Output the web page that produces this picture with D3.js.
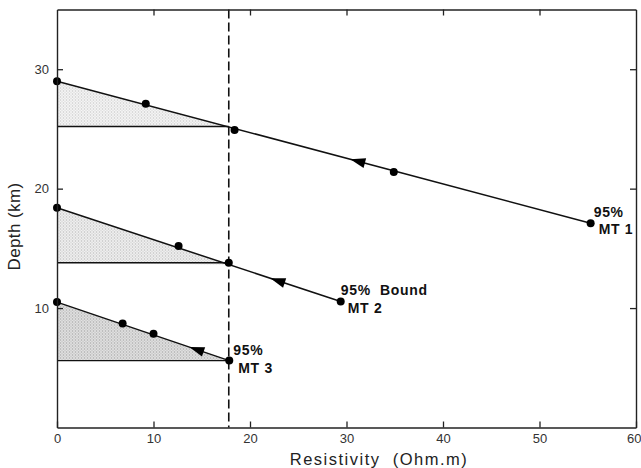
<!DOCTYPE html>
<html>
<head>
<meta charset="utf-8">
<script src="https://cdn.jsdelivr.net/npm/d3@7"></script>
<style>
  body { margin: 0; background: #fff; }
  svg { font-family: "Liberation Sans", Arial, sans-serif; }
  text { white-space: pre; }
</style>
</head>
<body>
<div class="canvas"></div>
<script>
// resistivity (x) and depth (y) points
const mt1Rho = [0, 9.2, 18.4, 34.9, 55.3];
const mt1Depth = [29.0, 27.1, 24.9, 21.4, 17.1];
const mt2Rho = [0, 12.6, 17.8, 29.4];
const mt2Depth = [18.4, 15.2, 13.8, 10.55];
const mt3Rho = [0, 6.8, 10.0, 17.85];
const mt3Depth = [10.5, 8.7, 7.85, 5.6];

// arrow positions along each line (resistivity)
const arrowRho = [31.2, 22.9, 14.5];
// base depth of each shaded wedge
const shadeFloor = [25.2, 13.8, 5.6];
const boundRho = 17.8;

const xTicks = [0, 10, 20, 30, 40, 50, 60];
const yTicks = [10, 20, 30];

const dims = { width: 641, height: 468 };
const margin = { top: 9.5, right: 5, bottom: 40.5, left: 57 };
const w = dims.width - margin.left - margin.right;
const h = dims.height - margin.top - margin.bottom;

const svg = d3.select('.canvas')
    .append('svg')
    .attr('width', dims.width)
    .attr('height', dims.height);

const defs = svg.append('defs');
// stipple patterns, lighter to darker
const stipples = [
    { id: 'dots1', bg: '#f6f6f6', dot: '#bdbdbd' },
    { id: 'dots2', bg: '#f1f1f1', dot: '#b0b0b0' },
    { id: 'dots3', bg: '#e2e2e2', dot: '#9a9a9a' }
];
stipples.forEach(s => {
    const p = defs.append('pattern')
        .attr('id', s.id)
        .attr('patternUnits', 'userSpaceOnUse')
        .attr('width', 3).attr('height', 3);
    p.append('rect').attr('width', 3).attr('height', 3).attr('fill', s.bg);
    p.append('rect').attr('x', 0).attr('y', 0).attr('width', 1).attr('height', 1).attr('fill', s.dot);
    p.append('rect').attr('x', 1.5).attr('y', 1.5).attr('width', 1).attr('height', 1).attr('fill', s.dot);
});

const graph = svg.append('g')
    .attr('transform', `translate(${margin.left},${margin.top})`);

const x = d3.scaleLinear().domain([0, 60]).range([0, w]);
const y = d3.scaleLinear().domain([0, 35]).range([h, 0]);

const profiles = [
    { rho: mt1Rho, depth: mt1Depth, arrow: arrowRho[0], floor: shadeFloor[0], fill: 'url(#dots1)',
      labels: [{ t: '95%', dx: 3, dy: -6 }, { t: 'MT 1', dx: 8, dy: 11 }] },
    { rho: mt2Rho, depth: mt2Depth, arrow: arrowRho[1], floor: shadeFloor[1], fill: 'url(#dots2)',
      labels: [{ t: '95%  Bound', dx: 0, dy: -7 }, { t: 'MT 2', dx: 7, dy: 11 }] },
    { rho: mt3Rho, depth: mt3Depth, arrow: arrowRho[2], floor: shadeFloor[2], fill: 'url(#dots3)',
      labels: [{ t: '95%', dx: 4, dy: -6 }, { t: 'MT 3', dx: 9, dy: 12 }] }
];

// linear fit from first to last point
const lineAt = (p, r) => {
    const n = p.rho.length - 1;
    const s = (p.depth[n] - p.depth[0]) / (p.rho[n] - p.rho[0]);
    return p.depth[0] + s * (r - p.rho[0]);
};

profiles.forEach(p => {
    const upper = lineAt(p, boundRho);
    const wedge = [[0, p.depth[0]], [boundRho, upper], [0, p.floor]];
    graph.append('path')
        .attr('d', d3.line().x(d => x(d[0])).y(d => y(d[1]))(wedge) + 'Z')
        .attr('fill', p.fill)
        .attr('stroke', 'none');
    graph.append('line')
        .attr('x1', x(0)).attr('x2', x(boundRho))
        .attr('y1', y(p.floor)).attr('y2', y(p.floor))
        .attr('stroke', '#111').attr('stroke-width', 1.4);
});

// dashed bound
graph.append('line')
    .attr('x1', x(boundRho)).attr('x2', x(boundRho))
    .attr('y1', 0).attr('y2', h)
    .attr('stroke', '#111')
    .attr('stroke-width', 1.6)
    .attr('stroke-dasharray', '9,4');

profiles.forEach(p => {
    const n = p.rho.length - 1;
    graph.append('line')
        .attr('x1', x(p.rho[0])).attr('y1', y(p.depth[0]))
        .attr('x2', x(p.rho[n])).attr('y2', y(p.depth[n]))
        .attr('stroke', '#111').attr('stroke-width', 1.5);

    graph.selectAll(null)
        .data(p.rho.map((r, i) => [r, p.depth[i]]))
        .enter()
        .append('circle')
        .attr('cx', d => x(d[0]))
        .attr('cy', d => y(d[1]))
        .attr('r', 4)
        .attr('fill', '#000');

    // arrow pointing back along the line (toward low resistivity)
    const ax = x(p.arrow), ay = y(lineAt(p, p.arrow));
    const ang = Math.atan2(y(p.depth[0]) - y(p.depth[n]), x(p.rho[0]) - x(p.rho[n])) * 180 / Math.PI;
    graph.append('path')
        .attr('d', 'M-8,0 L7,-5 L7,5 Z')
        .attr('transform', `translate(${ax},${ay}) rotate(${ang + 180})`)
        .attr('fill', '#000');

    const ex = x(p.rho[n]), ey = y(p.depth[n]);
    p.labels.forEach(l => {
        graph.append('text')
            .attr('x', ex + l.dx).attr('y', ey + l.dy)
            .attr('font-size', 14)
            .attr('font-weight', 'bold')
            .attr('letter-spacing', 0.7)
            .attr('fill', '#111')
            .text(l.t);
    });
});

// frame and axes (ticks inward)
const xAxisBottom = d3.axisBottom(x).tickValues(xTicks).tickSizeInner(-6).tickSizeOuter(0).tickPadding(6);
const xAxisTop = d3.axisTop(x).tickValues(xTicks.slice(1, -1)).tickSizeInner(-6).tickSizeOuter(0).tickFormat('');
const yAxisLeft = d3.axisLeft(y).tickValues(yTicks).tickSizeInner(-6).tickSizeOuter(0).tickPadding(8);
const yAxisRight = d3.axisRight(y).tickValues(yTicks).tickSizeInner(-6).tickSizeOuter(0).tickFormat('');

const gBottom = graph.append('g').attr('transform', `translate(0,${h})`).call(xAxisBottom);
graph.append('g').call(xAxisTop);
graph.append('g').call(yAxisLeft);
graph.append('g').attr('transform', `translate(${w},0)`).call(yAxisRight);

graph.selectAll('.domain').attr('stroke', '#222').attr('stroke-width', 1.4);
graph.selectAll('.tick line').attr('stroke', '#222').attr('stroke-width', 1.3);
graph.selectAll('.tick text')
    .attr('font-family', '"Liberation Sans", Arial, sans-serif')
    .attr('font-size', 13)
    .attr('fill', '#333');
// keep the last label inside the window
gBottom.selectAll('.tick text').filter(d => d === 60).attr('text-anchor', 'end').attr('dx', 5);

svg.append('text')
    .attr('x', 379)
    .attr('y', 465)
    .attr('text-anchor', 'middle')
    .attr('font-size', 16.5)
    .attr('letter-spacing', 1.5)
    .attr('fill', '#222')
    .text('Resistivity  (Ohm.m)');

svg.append('text')
    .attr('transform', 'translate(20,226.5) rotate(-90)')
    .attr('text-anchor', 'middle')
    .attr('font-size', 17)
    .attr('letter-spacing', 0.4)
    .attr('fill', '#222')
    .text('Depth (km)');
</script>
</body>
</html>
